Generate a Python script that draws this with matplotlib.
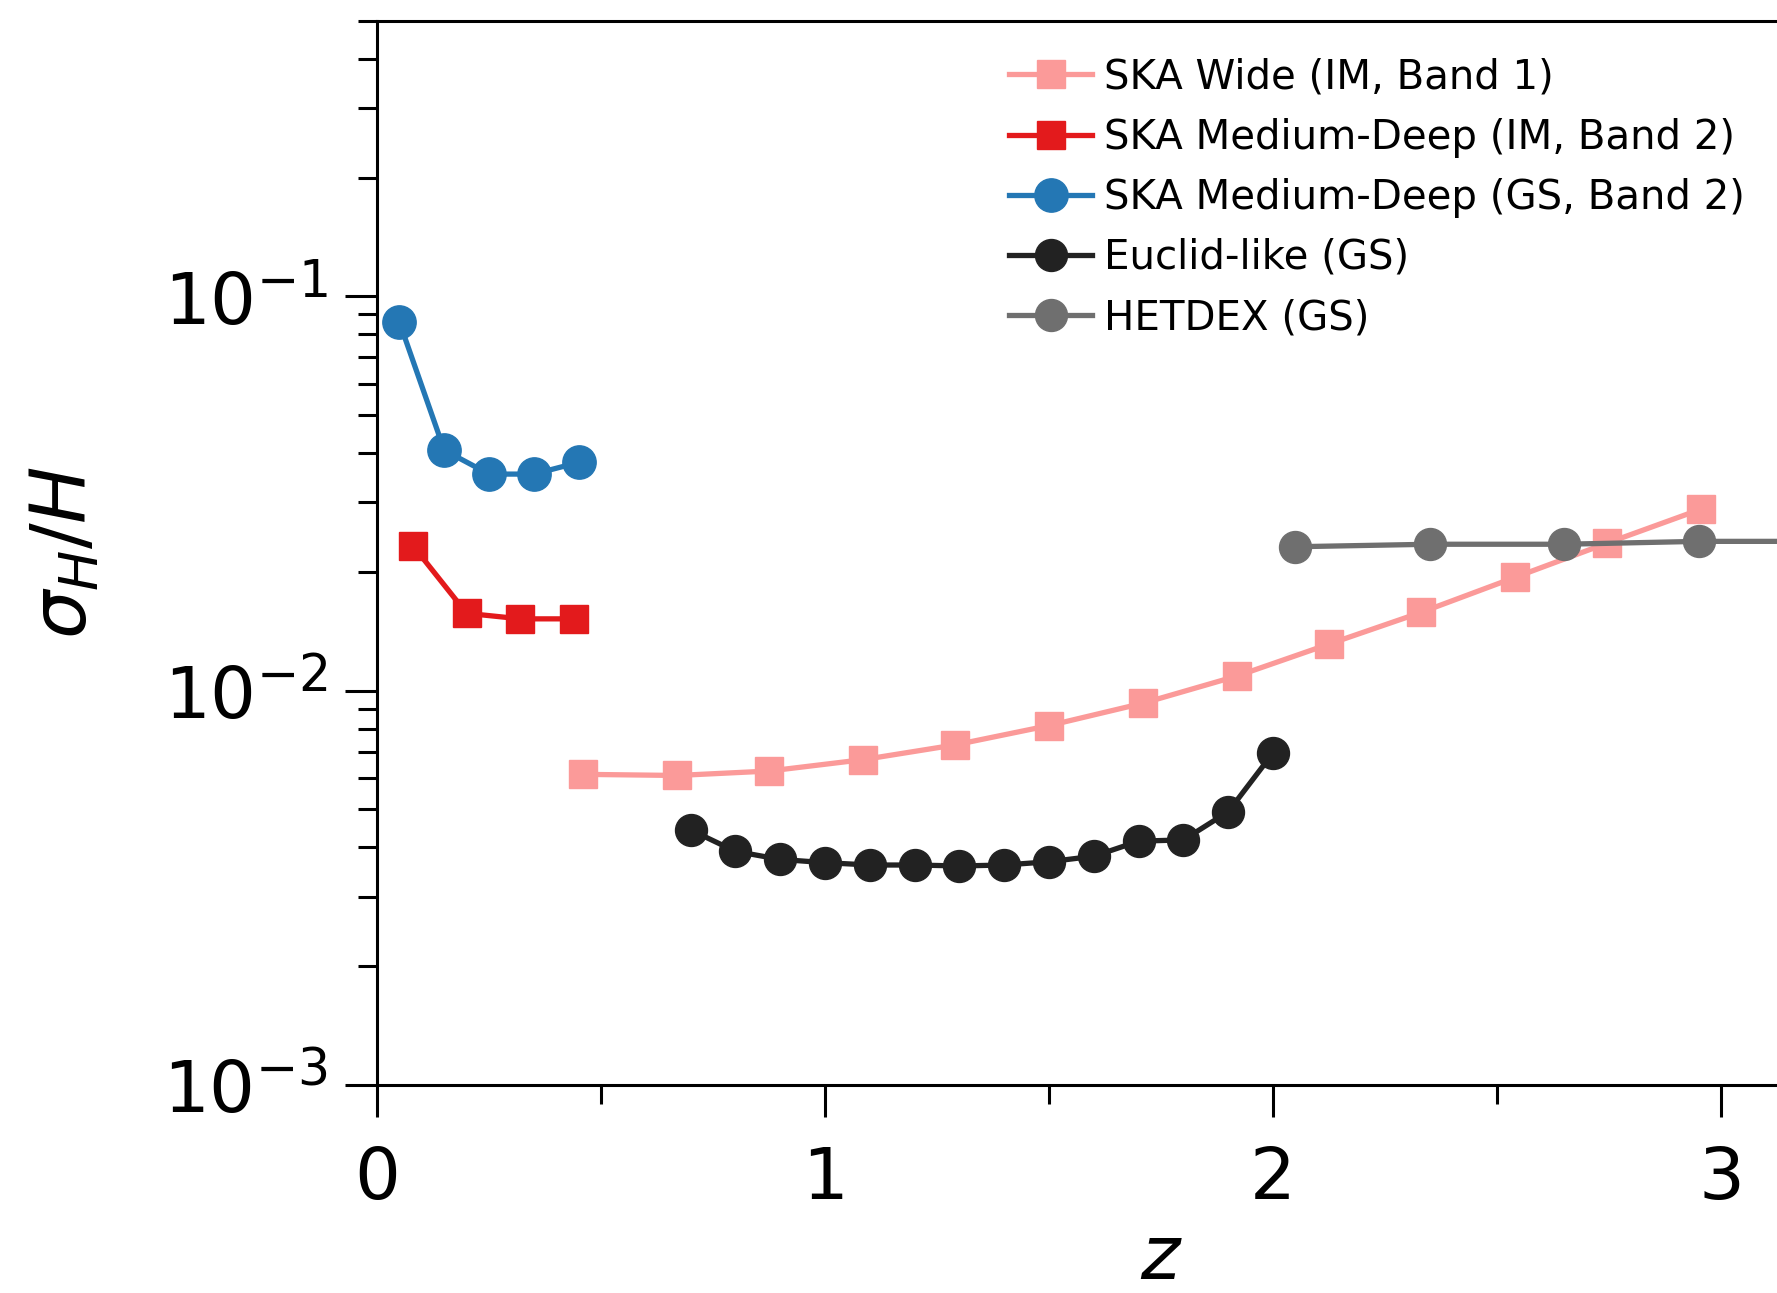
import matplotlib
matplotlib.use('Agg')
import matplotlib.pyplot as plt
from matplotlib.ticker import LogLocator, MultipleLocator, NullFormatter

# redshift bins and fractional errors
z_ska_wide = [0.46, 0.67, 0.875, 1.085, 1.29, 1.50, 1.71, 1.92, 2.125, 2.33, 2.54, 2.745, 2.955]
s_ska_wide = [0.00613, 0.00609, 0.00625, 0.00668, 0.00728, 0.00815, 0.00929,
              0.01089, 0.01312, 0.01578, 0.01937, 0.02364, 0.02884]

z_ska_md_im = [0.08, 0.20, 0.32, 0.44]
s_ska_md_im = [0.0233, 0.0157, 0.0152, 0.0152]

z_ska_md_gs = [0.05, 0.15, 0.25, 0.35, 0.45]
s_ska_md_gs = [0.0859, 0.0407, 0.0354, 0.0354, 0.0379]

z_euclid = [0.7, 0.8, 0.9, 1.0, 1.1, 1.2, 1.3, 1.4, 1.5, 1.6, 1.7, 1.8, 1.9, 2.0]
s_euclid = [0.00443, 0.00391, 0.00373, 0.00366, 0.00361, 0.00361, 0.00359,
            0.00361, 0.00368, 0.00380, 0.00415, 0.00418, 0.00493, 0.00695]

z_hetdex = [2.05, 2.35, 2.65, 2.95, 3.25]
s_hetdex = [0.02316, 0.0235, 0.0235, 0.0239, 0.0239]

LABELS = ['SKA Wide (IM, Band 1)', 'SKA Medium-Deep (IM, Band 2)',
          'SKA Medium-Deep (GS, Band 2)', 'Euclid-like (GS)', 'HETDEX (GS)']

fig = plt.figure(figsize=(17.77, 12.93), dpi=100)
# the original is cropped on the right, so the axes run past the figure edge
ax = fig.add_axes([0.2122, 0.161, 0.8824, 0.823])

lw = 3.8
ax.plot(z_ska_wide, s_ska_wide, '-s', color='#fb9a99', lw=lw, ms=20, label=LABELS[0])
ax.plot(z_ska_md_im, s_ska_md_im, '-s', color='#e31a1c', lw=lw, ms=20, label=LABELS[1])
ax.plot(z_ska_md_gs, s_ska_md_gs, '-o', color='#2477b4', lw=lw, ms=24, label=LABELS[2])
ax.plot(z_euclid, s_euclid, '-o', color='#222222', lw=lw, ms=23, label=LABELS[3])
ax.plot(z_hetdex, s_hetdex, '-o', color='#6f6f6f', lw=lw, ms=23, label=LABELS[4])

ax.set_yscale('log')
ax.set_xlim(0, 3.5)
ax.set_ylim(1e-3, 0.5)
ax.xaxis.set_major_locator(MultipleLocator(1))
ax.xaxis.set_minor_locator(MultipleLocator(0.5))
ax.yaxis.set_major_locator(LogLocator(base=10))
ax.yaxis.set_minor_locator(LogLocator(base=10, subs=range(2, 10)))
ax.yaxis.set_minor_formatter(NullFormatter())

ax.tick_params(which='major', direction='out', length=23, width=2.2, labelsize=52)
ax.tick_params(axis='x', which='major', pad=20)
ax.tick_params(axis='y', which='major', pad=12)
ax.tick_params(which='minor', direction='out', length=14, width=2.2)
for sp in ax.spines.values():
    sp.set_linewidth(2.2)

ax.set_xlabel('$z$', fontsize=54, labelpad=6)
ax.set_ylabel(r'$\sigma_H/H$', fontsize=55, labelpad=44)

ax.legend(loc='upper left', bbox_to_anchor=(0.559, 0.968), bbox_transform=fig.transFigure,
          frameon=False, fontsize=29, handlelength=2.05, handletextpad=0.3,
          labelspacing=0.5, borderaxespad=0)

fig.savefig('out.png', dpi=100)
